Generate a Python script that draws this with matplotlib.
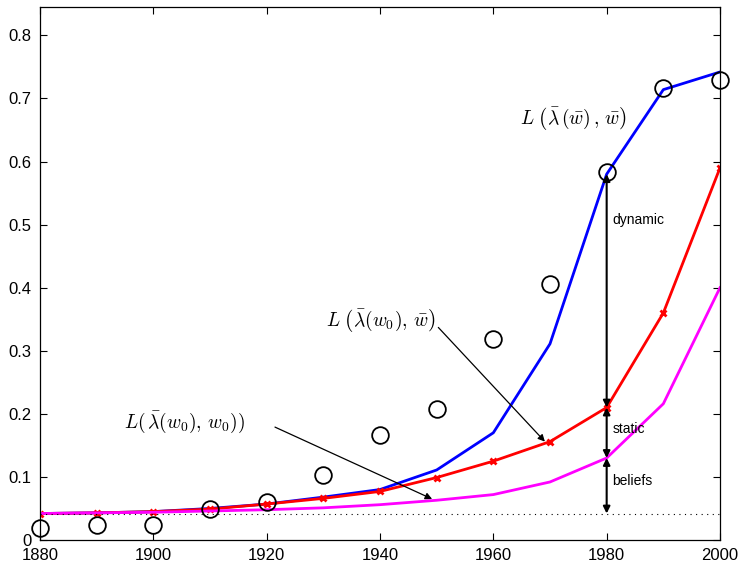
import matplotlib
matplotlib.use("Agg")
import matplotlib.pyplot as plt

plt.rcParams['font.family'] = ['Liberation Sans', 'DejaVu Sans']
plt.rcParams['mathtext.fontset'] = 'cm'

years = [1880, 1890, 1900, 1910, 1920, 1930, 1940, 1950, 1960, 1970, 1980, 1990, 2000]
data_circles = [0.019, 0.024, 0.024, 0.049, 0.060, 0.103, 0.167, 0.208, 0.319, 0.406, 0.583, 0.717, 0.729]
dynamic_blue = [0.042, 0.043, 0.045, 0.050, 0.057, 0.068, 0.080, 0.111, 0.170, 0.311, 0.580, 0.714, 0.742]
static_red = [0.042, 0.043, 0.045, 0.049, 0.057, 0.066, 0.077, 0.099, 0.125, 0.156, 0.210, 0.360, 0.590]
beliefs_magenta = [0.042, 0.043, 0.044, 0.046, 0.048, 0.051, 0.056, 0.063, 0.072, 0.092, 0.130, 0.216, 0.400]
baseline = 0.042

fig = plt.figure(figsize=(7.42, 5.64), dpi=100)
ax = fig.add_axes([40/742, 1-540/564, 680/742, 533/564])

ax.plot(years, dynamic_blue, color='blue', lw=2)
ax.plot(years, static_red, color='red', lw=2, marker='x', ms=5, mew=2)
ax.plot(years, beliefs_magenta, color='magenta', lw=2)
ax.plot(years, data_circles, 'o', mfc='none', mec='black', ms=12, mew=1.3, clip_on=False, zorder=5)
ax.plot([years[0], years[-1]], [baseline, baseline], color='black', lw=0.8, ls=(0, (1, 4)))

i80 = years.index(1980)
arrow_kw = dict(arrowstyle='<|-|>', color='black', lw=1.5, mutation_scale=10, shrinkA=0, shrinkB=0)
ax.annotate('', xy=(1980, dynamic_blue[i80]), xytext=(1980, static_red[i80]), arrowprops=arrow_kw)
ax.annotate('', xy=(1980, static_red[i80]), xytext=(1980, beliefs_magenta[i80]), arrowprops=arrow_kw)
ax.annotate('', xy=(1980, beliefs_magenta[i80]), xytext=(1980, baseline), arrowprops=arrow_kw)
ax.text(1981, 0.508, 'dynamic', fontsize=10, va='center')
ax.text(1981, 0.176, 'static', fontsize=10, va='center')
ax.text(1981, 0.094, 'beliefs', fontsize=10, va='center')

ax.text(1964.7, 0.667, r'$L\ \left(\bar{\lambda}\,(\bar{w})\,,\,\bar{w}\right)$', fontsize=14, va='center')
ax.annotate(r'$L\ \left(\bar{\lambda}(w_0),\,\bar{w}\right)$', xy=(1969.1, 0.156), xytext=(1930.5, 0.346),
            fontsize=14, va='center',
            arrowprops=dict(arrowstyle='-|>', color='black', lw=0.9, mutation_scale=10, shrinkA=0, shrinkB=0,
                            relpos=(1.0, 0.4)))
ax.annotate(r'$L(\,\bar{\lambda}(w_0),\,w_0))$', xy=(1949.2, 0.065), xytext=(1894.8, 0.187),
            fontsize=14, va='center',
            arrowprops=dict(arrowstyle='-|>', color='black', lw=0.9, mutation_scale=10, shrinkA=0, shrinkB=0,
                            relpos=(1.25, 0.3)))

ax.set_xlim(1880, 2000)
ax.set_ylim(0, 0.845)
ax.set_xticks([1880, 1900, 1920, 1940, 1960, 1980, 2000])
ax.set_yticks([0, 0.1, 0.2, 0.3, 0.4, 0.5, 0.6, 0.7, 0.8])
ax.set_yticklabels(['0', '0.1', '0.2', '0.3', '0.4', '0.5', '0.6', '0.7', '0.8'])
ax.tick_params(direction='in', top=True, right=True, labelsize=12, length=5, width=0.8)
ax.tick_params(axis='x', pad=6)
ax.tick_params(axis='y', pad=6)
for s in ax.spines.values():
    s.set_linewidth(0.9)

fig.savefig('out.png', dpi=100)
